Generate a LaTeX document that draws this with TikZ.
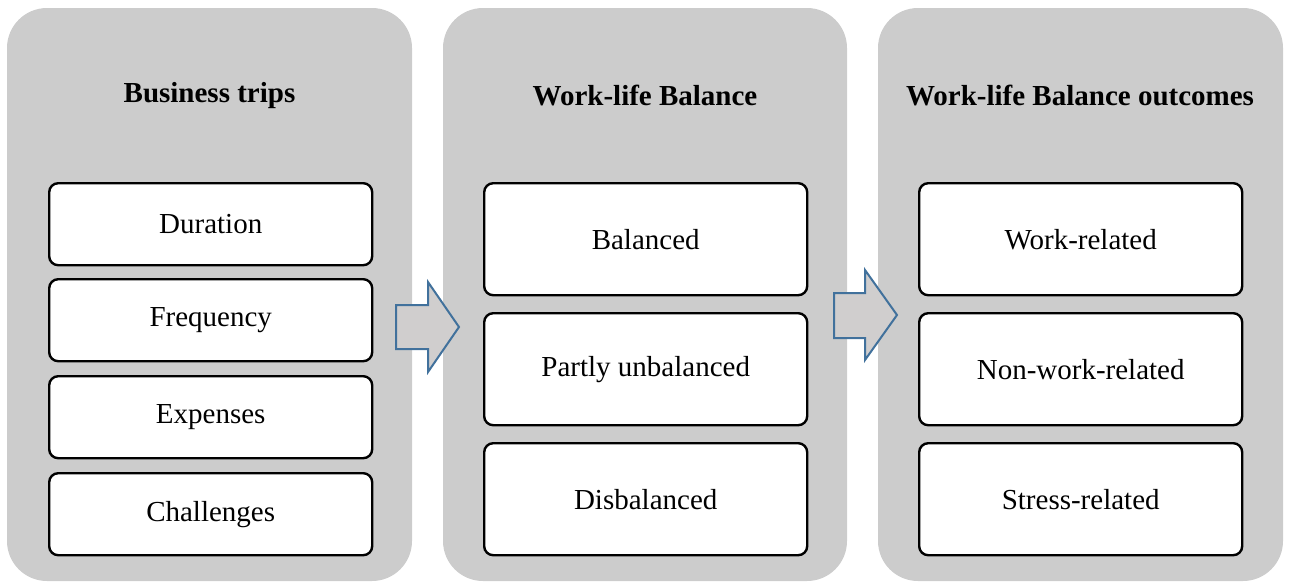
\documentclass[tikz,border=0pt]{standalone}
\usepackage{fontspec}
\setmainfont{Liberation Serif}
\begin{document}
\begin{tikzpicture}[x=1pt,y=-1pt,
  panel/.style={fill=panelgrey, draw=none, rounded corners=40pt},
  item/.style={draw=black, fill=white, line width=2.4pt, rounded corners=9pt,
    minimum width=323pt, anchor=north west, inner sep=0pt,
    font=\fontsize{29}{34}\selectfont},
  title/.style={font=\fontsize{29}{34}\selectfont\bfseries},
  flow/.style={draw=arrowblue, fill=arrowfill, line width=2pt, line join=miter}]
\definecolor{panelgrey}{HTML}{CCCCCC}
\definecolor{arrowblue}{HTML}{41719C}
\definecolor{arrowfill}{HTML}{D0CECE}
\useasboundingbox (0,0) rectangle (1291,582);

% background panels
\fill[panel] (7,8) rectangle (412,581);
\fill[panel] (443,8) rectangle (847,581);
\fill[panel] (878,8) rectangle (1283,581);

% titles
\node[title] (t1) at (209.5,96) {Business trips};
\node[title] (t2) at (645,96) {Work-life Balance};
\node[title] (t3) at (1080,96) {Work-life Balance outcomes};

% first column
\node[item, minimum height=82pt] (a1) at (48,182) {Duration};
\node[item, minimum height=82pt] (a2) at (48,278) {Frequency};
\node[item, minimum height=82pt] (a3) at (48,375) {Expenses};
\node[item, minimum height=82pt] (a4) at (48,472) {Challenges};

% second column
\node[item, minimum height=112pt] (b1) at (483,182) {Balanced};
\node[item, minimum height=112pt] (b2) at (483,312) {Partly unbalanced};
\node[item, minimum height=112pt] (b3) at (483,442) {Disbalanced};

% third column
\node[item, minimum height=112pt] (c1) at (918,182) {Work-related};
\node[item, minimum height=112pt] (c2) at (918,312) {Non-work-related};
\node[item, minimum height=112pt] (c3) at (918,442) {Stress-related};

% block arrows between the columns
\draw[flow] (396,305) -- (428,305) -- (428,282) -- (459,327) -- (428,372)
  -- (428,349) -- (396,349) -- cycle;
\draw[flow] (834,293) -- (865,293) -- (865,270) -- (897,315) -- (865,360)
  -- (865,338) -- (834,338) -- cycle;
\end{tikzpicture}
\end{document}
